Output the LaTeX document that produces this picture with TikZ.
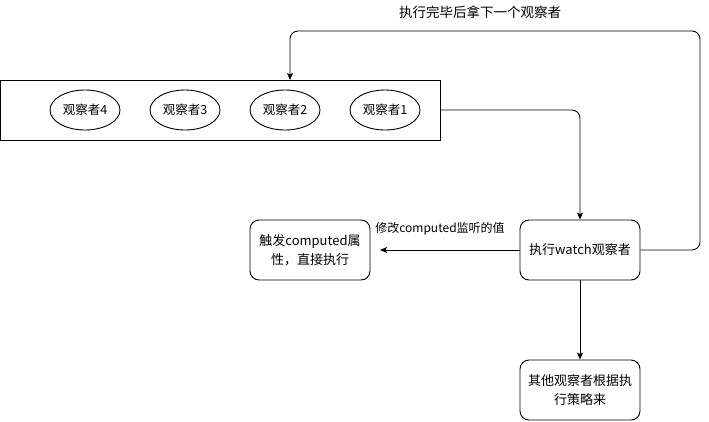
\documentclass[tikz,border=0pt]{standalone}
\usepackage{fontspec}
\setmainfont{Noto Sans CJK SC}
\usetikzlibrary{arrows.meta,shapes.geometric}
\begin{document}
\begin{tikzpicture}[x=1pt,y=-1pt,
  line width=0.9pt,
  arr/.style={-{Stealth[length=7pt,width=6pt,inset=1.5pt]}, rounded corners=8pt},
  obs/.style={draw, ellipse, minimum width=70pt, minimum height=40pt, inner sep=0pt, font=\fontsize{12.5}{14}\selectfont},
  rbox/.style={draw, rounded corners=9pt, minimum width=120pt, minimum height=60pt, inner sep=2pt, align=center, font=\fontsize{13}{19}\selectfont},
  lbl/.style={font=\fontsize{12}{14}\selectfont, inner sep=0pt}]
\useasboundingbox (0,0) rectangle (709,421);
\node[draw, minimum width=440pt, minimum height=60pt, inner sep=0pt] (queue) at (220,110) {};
\node[obs] (o4) at (85,110) {观察者4};
\node[obs] (o3) at (185,110) {观察者3};
\node[obs] (o2) at (285,110) {观察者2};
\node[obs] (o1) at (385,110) {观察者1};
\node[rbox] (watch) at (580,250) {执行watch观察者};
\node[rbox] (comp) at (310,250) {触发computed属\\性，直接执行};
\node[rbox] (other) at (580,390) {其他观察者根据执\\行策略来};
\coordinate (compend) at (380,250);
\coordinate (qtop) at (290,80);
\draw[arr] (queue.east) -| (watch.north);
\draw[arr] (watch.west) -- (compend);
\draw[arr] (watch.south) -- (other.north);
\draw[arr] (watch.east) -- (700,250) -- (700,31) -- (290,31) -- (qtop);
\node[lbl] (l1) at (440,229) {修改computed监听的值};
\node[lbl, font=\fontsize{13.5}{14}\selectfont] (l2) at (480,12) {执行完毕后拿下一个观察者};
\end{tikzpicture}
\end{document}
